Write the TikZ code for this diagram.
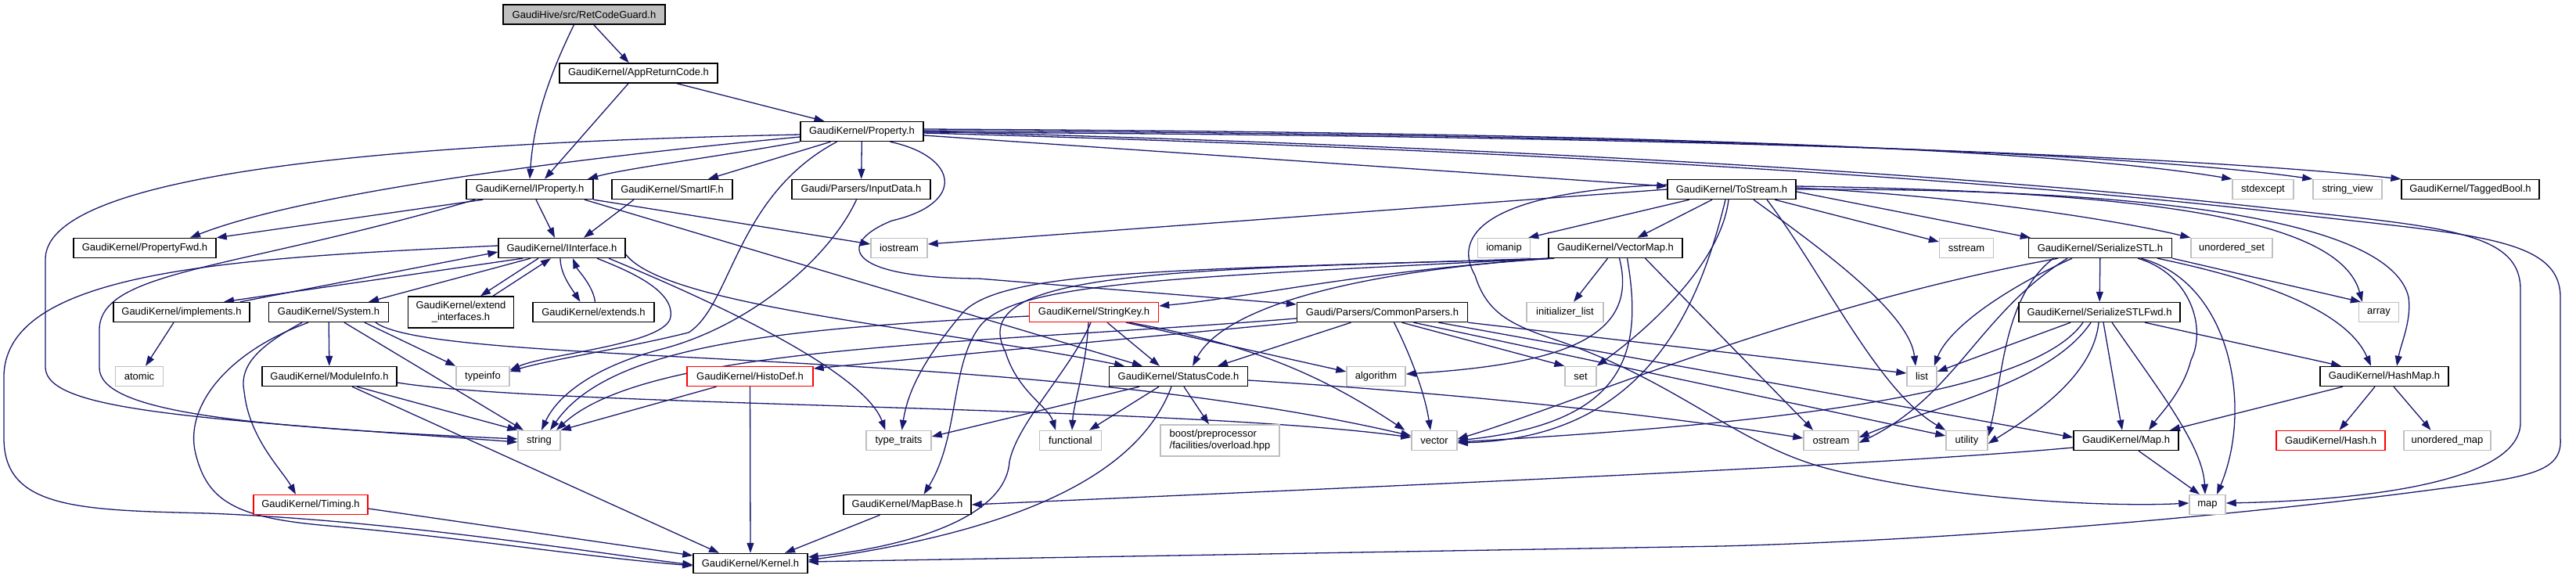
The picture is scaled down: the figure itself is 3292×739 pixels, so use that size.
\documentclass[tikz,border=0pt]{standalone}
\usepackage{fontspec}
\setmainfont{Liberation Sans}
\usetikzlibrary{arrows.meta}
\pgfdeclarelayer{bg}
\pgfsetlayers{bg,main}
\definecolor{edgec}{HTML}{191970}
\definecolor{extc}{HTML}{BFBFBF}
\definecolor{redc}{HTML}{FF0000}
\newcommand\dfont{\fontsize{13}{15}\selectfont}
\tikzset{
 nb/.style={draw=black, line width=1.4pt, fill=white, minimum height=25pt, inner sep=0pt, font=\dfont},
 ng/.style={nb, draw=extc},
 nr/.style={nb, draw=redc},
 dep/.style={draw=edgec, line width=1.3pt, -{Triangle[length=13pt,width=9pt]}},
}
\begin{document}
\begin{tikzpicture}[x=1pt,y=-1pt]
\useasboundingbox (0,0) rectangle (3292,739);
% nodes
\node[nb, fill=extc, minimum width=207pt] (ret) at (746.5,18.5) {GaudiHive/src/RetCodeGuard.h};
\node[nb, minimum width=202pt] (app) at (816,93.5) {GaudiKernel/AppReturnCode.h};
\node[nb, minimum width=157pt] (prop) at (1101.5,168) {GaudiKernel/Property.h};
\node[nb, minimum width=162pt] (iprop) at (677,242) {GaudiKernel/IProperty.h};
\node[nb, minimum width=154pt] (smartif) at (859,242) {GaudiKernel/SmartIF.h};
\node[nb, minimum width=177pt] (inputdata) at (1100.5,242) {Gaudi/Parsers/InputData.h};
\node[nb, minimum width=164pt] (tostream) at (2213,242) {GaudiKernel/ToStream.h};
\node[ng, minimum width=78pt] (stdexcept) at (2892,242) {stdexcept};
\node[ng, minimum width=88pt] (stringview) at (3000,242) {string\_view};
\node[nb, minimum width=176pt] (taggedbool) at (3157,242) {GaudiKernel/TaggedBool.h};
\node[nb, minimum width=182pt] (propfwd) at (185,317) {GaudiKernel/PropertyFwd.h};
\node[nb, minimum width=162pt] (iinterface) at (718,317) {GaudiKernel/IInterface.h};
\node[ng, minimum width=72pt] (iostream) at (1149,317) {iostream};
\node[ng, minimum width=67pt] (iomanip) at (1922,317) {iomanip};
\node[nb, minimum width=171pt] (vectormap) at (2064.5,317) {GaudiKernel/VectorMap.h};
\node[ng, minimum width=69pt] (sstream) at (2513,317) {sstream};
\node[nb, minimum width=183pt] (serialstl) at (2684,317) {GaudiKernel/SerializeSTL.h};
\node[ng, minimum width=104pt] (unorderedset) at (2852,317) {unordered\_set};
\node[nb, minimum width=174pt] (implements) at (232,399) {GaudiKernel/implements.h};
\node[nb, minimum width=153pt] (system) at (420,399) {GaudiKernel/System.h};
\node[nb, minimum width=135pt, minimum height=40pt, align=center] (extendint) at (589,399) {GaudiKernel/extend\\\_interfaces.h};
\node[nb, minimum width=155pt] (extends) at (758.5,399) {GaudiKernel/extends.h};
\node[nr, minimum width=165pt] (stringkey) at (1398,399) {GaudiKernel/StringKey.h};
\node[nb, minimum width=218pt] (commonparsers) at (1766.5,399) {Gaudi/Parsers/CommonParsers.h};
\node[ng, minimum width=98pt] (initlist) at (2000,399) {initializer\_list};
\node[nb, minimum width=206pt] (serialstlfwd) at (2683,399) {GaudiKernel/SerializeSTLFwd.h};
\node[ng, minimum width=51pt] (array) at (3040,399) {array};
\node[ng, minimum width=61pt] (atomic) at (178,481) {atomic};
\node[nb, minimum width=172pt] (moduleinfo) at (421,481) {GaudiKernel/ModuleInfo.h};
\node[ng, minimum width=68pt] (typeinfo) at (617,481) {typeinfo};
\node[nr, minimum width=161pt] (histodef) at (958.5,481) {GaudiKernel/HistoDef.h};
\node[nb, minimum width=177pt] (statuscode) at (1506,481) {GaudiKernel/StatusCode.h};
\node[ng, minimum width=75pt] (algorithm) at (1758.5,481) {algorithm};
\node[ng, minimum width=40pt] (set) at (2020,481) {set};
\node[ng, minimum width=38pt] (list) at (2456,481) {list};
\node[nb, minimum width=164pt] (hashmap) at (3047,481) {GaudiKernel/HashMap.h};
\node[ng, minimum width=54pt] (string) at (689,563) {string};
\node[ng, minimum width=83pt] (typetraits) at (1148.5,563) {type\_traits};
\node[ng, minimum width=79pt] (functional) at (1368,563) {functional};
\node[ng, minimum width=152pt, minimum height=40pt, align=left] (boost) at (1559,563) {boost/preprocessor\\/facilities/overload.hpp};
\node[ng, minimum width=58pt] (vector) at (1833,563) {vector};
\node[ng, minimum width=70pt] (ostream) at (2340,563) {ostream};
\node[ng, minimum width=53pt] (utility) at (2513.5,563) {utility};
\node[nb, minimum width=134pt] (maph) at (2717,563) {GaudiKernel/Map.h};
\node[nr, minimum width=139pt] (hash) at (2978.5,563) {GaudiKernel/Hash.h};
\node[ng, minimum width=111pt] (unorderedmap) at (3127.5,563) {unordered\_map};
\node[nr, minimum width=146pt] (timing) at (397,645) {GaudiKernel/Timing.h};
\node[nb, minimum width=163pt] (mapbase) at (1159.5,645) {GaudiKernel/MapBase.h};
\node[ng, minimum width=46pt] (map) at (2821,645) {map};
\node[nb, minimum width=146pt] (kernel) at (959,720) {GaudiKernel/Kernel.h};
% edges
\begin{pgfonlayer}{bg}
% RetCodeGuard
\draw[dep] (ret) -- (app);
\draw[dep] ([xshift=-13pt]ret.south) .. controls (705,90) and (682,150) .. (iprop.north);
% AppReturnCode
\draw[dep] ([xshift=-13pt]app.south) -- ([xshift=19pt]iprop.north);
\draw[dep] ([xshift=49pt]app.south) -- ([xshift=-48pt]prop.north);
% Property
\draw[dep] (prop.south west) .. controls (920,200) and (800,215) .. ([xshift=74pt]iprop.north);
\draw[dep] ([yshift=-7pt]prop.west) .. controls (700,205) and (380,250) .. ([xshift=58pt]propfwd.north);
\draw[dep] ([yshift=-4pt]prop.west) .. controls (550,182) and (62,215) .. (58,330) -- (58,470) .. controls (60,525) and (250,535) .. ([yshift=-2pt]string.west);
\draw[dep] ([xshift=-40pt]prop.south) -- ([xshift=46pt]smartif.north);
\draw[dep] (prop) -- (inputdata);
\draw[dep] ([xshift=-32pt]prop.south) .. controls (940,250) and (935,390) .. (880,425) .. controls (800,445) and (700,460) .. ([yshift=6pt]typeinfo.east);
\draw[dep] ([xshift=36pt]prop.south) .. controls (1225,200) and (1235,260) .. (1140,282) .. controls (1070,310) and (1075,355) .. (1250,356) -- ([yshift=10pt]commonparsers.west);
\draw[dep] ([yshift=-5pt]prop.east) -- ([yshift=4pt]tostream.west);
\draw[dep] ([yshift=3pt]prop.east) .. controls (2200,170) and (2650,195) .. (stdexcept.north west);
\draw[dep] ([yshift=1pt]prop.east) .. controls (2250,172) and (2750,200) .. (stringview.north west);
\draw[dep] ([yshift=-1pt]prop.east) .. controls (2300,174) and (2850,205) .. (taggedbool.north west);
\draw[dep] ([yshift=-2pt]prop.east) .. controls (1900,190) and (2500,225) .. (2900,270) .. controls (3150,300) and (3272,300) .. (3272,380) -- (3272,560) .. controls (3275,605) and (3230,610) .. (3100,627) .. controls (2850,660) and (2500,690) .. (2200,698) -- ([yshift=2pt]kernel.east);
\draw[dep] ([yshift=0pt]prop.east) .. controls (1900,187) and (2500,221) .. (2900,266) .. controls (3120,290) and (3221,295) .. (3221,370) -- (3221,540) .. controls (3221,620) and (3000,640) .. ([yshift=2pt]map.east);
% IProperty
\draw[dep] ([xshift=-60pt]iprop.south) -- (propfwd.north east);
\draw[dep] ([xshift=8pt]iprop.south) -- ([xshift=-9pt]iinterface.north);
\draw[dep] ([xshift=-70pt]iprop.south) .. controls (300,345) and (130,345) .. (127,420) -- (127,470) .. controls (127,525) and (300,545) .. ([yshift=2pt]string.west);
\draw[dep] (iprop.south east) -- ([yshift=5pt]iostream.west);
\draw[dep] ([xshift=70pt]iprop.south) -- ([xshift=-46pt]statuscode.north);
% SmartIF, InputData
\draw[dep] ([xshift=-49pt]smartif.south) -- ([xshift=28pt]iinterface.north);
\draw[dep] ([xshift=-6pt]inputdata.south) .. controls (1060,330) and (960,415) .. (850,445) .. controls (770,465) and (715,500) .. ([xshift=3pt]string.north);
% IInterface
\draw[dep] ([xshift=-50pt]iinterface.south) -- ([xshift=54pt]implements.north);
\draw[dep] ([xshift=75pt]implements.north) -- ([yshift=-5pt]iinterface.west);
\draw[dep] ([xshift=-40pt]iinterface.south) -- ([xshift=51pt]system.north);
\draw[dep] ([xshift=-30pt]iinterface.south) -- ([xshift=25pt]extendint.north);
\draw[dep] ([xshift=41pt]extendint.north) -- ([xshift=-14pt]iinterface.south);
\draw[dep] ([xshift=-2pt]iinterface.south) .. controls (716,350) and (730,368) .. ([xshift=-17pt]extends.north);
\draw[dep] ([xshift=2pt]extends.north) .. controls (758,365) and (738,345) .. ([xshift=14pt]iinterface.south);
\draw[dep] ([yshift=3pt]iinterface.west) .. controls (300,330) and (8,345) .. (5,480) -- (5,560) .. controls (5,650) and (100,652) .. (265,656) .. controls (500,665) and (750,705) .. ([yshift=-2pt]kernel.west);
\draw[dep] ([yshift=-8pt]iinterface.east) .. controls (850,392) and (1200,420) .. ([xshift=-69pt]statuscode.north);
\draw[dep] ([xshift=45pt]iinterface.south) .. controls (800,345) and (862,370) .. (857,405) .. controls (852,440) and (700,452) .. ([yshift=8pt]typeinfo.east);
\draw[dep] ([xshift=60pt]iinterface.south) .. controls (850,360) and (1100,465) .. ([xshift=-17pt]typetraits.north);
% implements
\draw[dep] ([xshift=-10pt]implements.south) -- ([xshift=8pt]atomic.north);
% System
\draw[dep] (system) -- (moduleinfo);
\draw[dep] ([xshift=46pt]system.south) -- (typeinfo.north west);
\draw[dep] ([xshift=20pt]system.south) -- ([xshift=-20pt]string.north);
\draw[dep] ([xshift=-34pt]system.south) .. controls (335,440) and (305,465) .. (312,500) .. controls (318,560) and (360,600) .. ([xshift=-19pt]timing.north);
\draw[dep] ([xshift=-26pt]system.south) .. controls (290,450) and (235,520) .. (250,580) .. controls (265,640) and (300,662) .. (420,672) .. controls (600,688) and (750,712) .. ([yshift=-3pt]kernel.west);
\draw[dep] ([xshift=60pt]system.south) .. controls (560,470) and (1300,440) .. ([yshift=6pt]vector.west);
% ModuleInfo, Timing, HistoDef, MapBase
\draw[dep] ([xshift=35pt]moduleinfo.south) -- (string.north west);
\draw[dep] ([xshift=29pt]moduleinfo.south) -- ([xshift=-40pt]kernel.north);
\draw[dep] ([yshift=-8pt]moduleinfo.east) .. controls (700,520) and (1500,518) .. ([yshift=4pt]vector.west);
\draw[dep] ([yshift=-5pt]timing.east) -- ([yshift=10pt]kernel.west);
\draw[dep] (histodef) -- (kernel);
\draw[dep] ([xshift=-43pt]histodef.south) -- (string.north east);
\draw[dep] ([xshift=-35pt]mapbase.south) -- ([xshift=44pt]kernel.north);
% StringKey
\draw[dep] ([yshift=-5pt]stringkey.west) .. controls (1000,420) and (780,440) .. ([xshift=14pt]string.north);
\draw[dep] ([xshift=17pt]stringkey.south) -- ([xshift=-24pt]statuscode.north);
\draw[dep] ([xshift=41pt]stringkey.south) -- ([yshift=6pt]algorithm.west);
\draw[dep] ([xshift=-7pt]stringkey.south) .. controls (1388,470) and (1372,515) .. ([xshift=2pt]functional.north);
\draw[dep] ([xshift=-4pt]stringkey.south) .. controls (1370,470) and (1300,540) .. (1290,590) .. controls (1285,665) and (1150,700) .. ([yshift=8pt]kernel.east);
\draw[dep] ([xshift=45pt]stringkey.south) .. controls (1600,440) and (1690,480) .. ([xshift=-8pt]vector.north west);
% StatusCode
\draw[dep] ([xshift=-9pt]statuscode.south) .. controls (1465,580) and (1360,670) .. ([yshift=4pt]kernel.east);
\draw[dep] ([xshift=-50pt]statuscode.south) -- ([yshift=5pt]typetraits.east);
\draw[dep] ([xshift=-25pt]statuscode.south) -- ([xshift=24pt]functional.north);
\draw[dep] ([xshift=7pt]statuscode.south) -- ([xshift=-14pt]boost.north);
\draw[dep] ([yshift=-5pt]statuscode.east) .. controls (1900,505) and (2150,535) .. ([yshift=3pt]ostream.west);
% CommonParsers
\draw[dep] ([yshift=-8pt]commonparsers.west) .. controls (1250,440) and (830,440) .. ([xshift=22pt]string.north);
\draw[dep] (commonparsers.south west) -- ([yshift=10pt]histodef.east);
\draw[dep] ([xshift=-40pt]commonparsers.south) -- ([xshift=50pt]statuscode.north);
\draw[dep] ([xshift=15pt]commonparsers.south) .. controls (1808,465) and (1822,510) .. ([xshift=-5pt]vector.north);
\draw[dep] ([xshift=25pt]commonparsers.south) -- (set.north west);
\draw[dep] ([xshift=72pt]commonparsers.south) -- ([yshift=4pt]maph.west);
\draw[dep] ([xshift=40pt]commonparsers.south) -- ([yshift=6pt]utility.west);
\draw[dep] (commonparsers.south east) -- ([yshift=4pt]list.west);
% VectorMap
\draw[dep] ([xshift=8pt]vectormap.south west) .. controls (1750,345) and (1600,380) .. ([yshift=8pt]stringkey.east);
\draw[dep] (vectormap.south west) .. controls (1700,350) and (1560,400) .. ([xshift=18pt]statuscode.north);
\draw[dep] ([xshift=4pt]vectormap.south west) .. controls (1500,345) and (1280,345) .. (1230,400) .. controls (1180,460) and (1160,500) .. ([xshift=4pt]typetraits.north);
\draw[dep] ([xshift=2pt]vectormap.south west) .. controls (1500,355) and (1290,360) .. (1250,420) .. controls (1215,470) and (1225,560) .. ([xshift=21pt]mapbase.north);
\draw[dep] ([xshift=6pt]vectormap.south west) .. controls (1500,345) and (1230,345) .. (1285,450) .. controls (1300,500) and (1340,520) .. ([xshift=-19pt]functional.north);
\draw[dep] ([xshift=-10pt]vectormap.south) -- ([xshift=11pt]initlist.north);
\draw[dep] ([xshift=5pt]vectormap.south) .. controls (2095,430) and (2000,465) .. ([yshift=3pt]algorithm.east);
\draw[dep] ([xshift=15pt]vectormap.south) .. controls (2100,450) and (2080,540) .. (vector.east);
\draw[dep] ([xshift=38pt]vectormap.south) -- ([xshift=-23pt]ostream.north);
% ToStream
\draw[dep] (tostream.west) -- ([yshift=5pt]iostream.east);
\draw[dep] ([xshift=-54pt]tostream.south) -- ([xshift=-3pt]iomanip.north east);
\draw[dep] ([xshift=-25pt]tostream.south) -- ([xshift=28pt]vectormap.north);
\draw[dep] ([xshift=55pt]tostream.south) -- ([yshift=8pt]sstream.west);
\draw[dep] ([yshift=-3pt]tostream.east) -- ([xshift=3pt]serialstl.north west);
\draw[dep] ([yshift=2pt]tostream.east) .. controls (2500,250) and (2700,280) .. (unorderedset.north west);
\draw[dep] ([yshift=4pt]tostream.east) .. controls (2750,245) and (2990,280) .. ([xshift=5pt]array.north west);
\draw[dep] (tostream.east) .. controls (2850,240) and (3060,300) .. (3078,380) .. controls (3082,410) and (3068,440) .. ([xshift=16pt]hashmap.north);
\draw[dep] ([xshift=28pt]tostream.south) .. controls (2330,320) and (2440,400) .. ([xshift=-8pt]list.north);
\draw[dep] ([xshift=-4pt]tostream.south) .. controls (2200,330) and (2120,410) .. (set.north east);
\draw[dep] ([xshift=-8pt]tostream.south) .. controls (2170,400) and (2100,560) .. ([yshift=-3pt]vector.east);
\draw[dep] ([xshift=45pt]tostream.south) .. controls (2330,350) and (2400,500) .. (utility.north west);
\draw[dep] ([yshift=6pt]tostream.west) .. controls (1900,245) and (1855,300) .. (1885,352) .. controls (1900,400) and (1930,415) .. (1990,435) .. controls (2150,490) and (2220,570) .. (2340,600) .. controls (2500,640) and (2700,648) .. ([yshift=2pt]map.west);
% SerializeSTL
\draw[dep] (serialstl) -- (serialstlfwd);
\draw[dep] (serialstl.south east) -- ([xshift=3pt]array.north west);
\draw[dep] ([xshift=73pt]serialstl.south) .. controls (2900,360) and (3000,400) .. ([xshift=-17pt]hashmap.north);
\draw[dep] ([xshift=-36pt]serialstl.south) .. controls (2560,370) and (2490,420) .. ([xshift=-4pt]list.north east);
\draw[dep] ([xshift=-54pt]serialstl.south) .. controls (2300,390) and (2000,520) .. ([yshift=2pt]vector.east);
\draw[dep] ([xshift=48pt]serialstl.south) .. controls (2800,350) and (2820,420) .. (2800,460) .. controls (2790,500) and (2760,530) .. ([xshift=29pt]maph.north);
\draw[dep] ([xshift=52pt]serialstl.south) .. controls (2850,360) and (2880,520) .. ([xshift=12pt]map.north);
\draw[dep] ([xshift=-60pt]serialstl.south) .. controls (2560,380) and (2560,480) .. ([yshift=5pt]utility.east);
\draw[dep] ([xshift=-42pt]serialstl.south) .. controls (2530,400) and (2500,505) .. ([yshift=-3pt]ostream.east);
% SerializeSTLFwd
\draw[dep] ([xshift=-37pt]serialstlfwd.south) -- ([yshift=6pt]list.east);
\draw[dep] ([xshift=-21pt]serialstlfwd.south) .. controls (2600,500) and (2300,540) .. ([yshift=-2pt]vector.east);
\draw[dep] ([xshift=-11pt]serialstlfwd.south) .. controls (2620,490) and (2470,520) .. ([yshift=4pt]ostream.east);
\draw[dep] ([xshift=-1pt]serialstlfwd.south) .. controls (2675,480) and (2600,530) .. ([yshift=-4pt]utility.east);
\draw[dep] ([xshift=5pt]serialstlfwd.south) -- ([xshift=-5pt]maph.north);
\draw[dep] ([xshift=16pt]serialstlfwd.south) .. controls (2760,500) and (2815,570) .. ([xshift=-3pt]map.north);
\draw[dep] ([xshift=58pt]serialstlfwd.south) -- ([xshift=-55pt]hashmap.north);
% HashMap, Map
\draw[dep] ([xshift=-53pt]hashmap.south) -- ([xshift=56pt]maph.north);
\draw[dep] ([xshift=-12pt]hashmap.south) -- ([xshift=11pt]hash.north);
\draw[dep] ([xshift=12pt]hashmap.south) -- ([xshift=-21pt]unorderedmap.north);
\draw[dep] ([yshift=-9pt]maph.west) .. controls (2400,595) and (1800,620) .. (mapbase.east);
\draw[dep] ([xshift=16pt]maph.south) -- ([xshift=-10pt]map.north);
\end{pgfonlayer}
\end{tikzpicture}
\end{document}
